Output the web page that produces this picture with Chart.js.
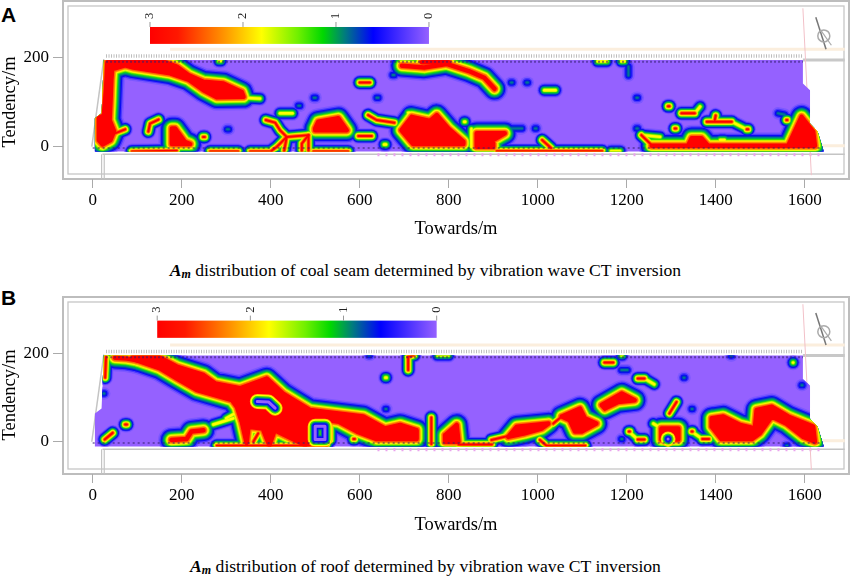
<!DOCTYPE html>
<html>
<head>
<meta charset="utf-8">
<script src="https://cdn.jsdelivr.net/npm/chart.js@4"></script>
<style>
  html, body { margin: 0; padding: 0; background: #fff; }
  body { width: 851px; height: 579px; position: relative; overflow: hidden; font-family: "Liberation Serif", serif; }
  canvas { position: absolute; left: 0; }
  .letter { position: absolute; left: 1px; font: bold 21px "Liberation Sans", sans-serif; color: #000; }
  .caption { position: absolute; left: 0; width: 851px; text-align: center; font-size: 17.6px; color: #000; white-space: nowrap; }
  .caption sub { font-size: 12px; vertical-align: -2px; line-height: 0; }
</style>
</head>
<body>
<div class="letter" style="top:3px">A</div>
<canvas id="coal" width="851" height="240" style="top:0"></canvas>
<div class="caption" style="top:260px"><b><i>A<sub>m</sub></i></b> distribution of coal seam determined by vibration wave CT inversion</div>
<div class="letter" style="top:286px">B</div>
<canvas id="roof" width="851" height="240" style="top:296px"></canvas>
<div class="caption" style="top:556px"><b><i>A<sub>m</sub></i></b> distribution of roof determined by vibration wave CT inversion</div>

<script>
const xTicks = [0, 200, 400, 600, 800, 1000, 1200, 1400, 1600];
const yTicks = [0, 200];
const barTicks = [3, 2, 1, 0];

// outline of the inverted area, metres
const workArea = [[5,-11],[5,64],[20,75],[25,195],[1596,195],[1596,142],[1612,127],[1612,52],[1629,34],[1643,-11]];

// coal seam: ridges and blobs of the Am field [x, y] in metres
const coalHot = [
  [[33,190],[45,190],[42,150],[40,100],[38,60],[48,35],[40,15],[22,5],[14,15],[14,65],[25,70],[30,130],[33,190]],
  [[46,191],[159,191],[189,180],[215,161],[249,146],[294,142],[335,123],[339,112],[279,111],[249,127],[215,151],[174,165],[91,178],[73,183],[50,176],[46,191]],
  [[178,41],[185,41],[207,11],[219,6],[178,6],[178,41]],
  [[500,41],[507,56],[552,64],[571,37],[500,37],[500,41]],
  [[694,37],[717,67],[758,58],[773,71],[799,41],[833,11],[833,6],[720,6],[694,37]],
  [[695,182],[745,178],[795,186],[845,170],[880,155],[903,130]],
  [[740,190],[800,190]],
  [[1256,2],[1338,2],[1346,19],[1368,19],[1383,2],[1563,2],[1593,67],[1619,34],[1623,2],[1256,2]],
  [[863,30],[926,30],[900,15],[900,0],[863,0],[863,30]]
];
const coalSpots = [
  [[50,30],[73,39]],
  [[125,34],[129,52],[148,61]],
  [[88,-11],[189,-9]],
  [[248,22],[252,22]],
  [[600,144],[623,144]],
  [[264,-11],[327,-11]],
  [[354,-11],[402,-11]],
  [[496,-11],[574,-11]],
  [[389,60],[410,54],[421,37],[436,22],[414,0],[402,-9]],
  [[436,22],[485,26]],
  [[485,26],[470,7],[470,-11]],
  [[436,22],[430,-11]],
  [[485,26],[485,-11]],
  [[597,24],[627,24]],
  [[619,71],[638,60],[678,54]],
  [[1293,91],[1296,91]],
  [[1323,75],[1353,75]],
  [[1308,41],[1311,41]],
  [[1380,56],[1436,56]],
  [[1398,60],[1400,70]],
  [[1470,39],[1473,39]],
  [[1559,60],[1561,60]],
  [[1233,26],[1256,4]],
  [[908,-10],[1145,-10]],
  [[1010,15],[1030,-3]]
];
const coalWarm = [
  [[339,110],[376,108]],
  [[284,193],[288,193]],
  [[655,5],[659,5]],
  [[421,75],[449,75]],
  [[530,66],[550,70]],
  [[709,76],[713,76]],
  [[1015,127],[1040,127]],
  [[1353,75],[1365,90]],
  [[1436,56],[1470,39]],
  [[1410,15],[1420,15]],
  [[835,56],[837,56]],
  [[851,0],[851,40]],
  [[1165,-10],[1185,-10]],
  [[1135,192],[1155,192]],
  [[1188,192],[1195,192]],
  [[1233,26],[1275,22]]
];
const coalLow = [
  [[302,39],[306,39]],
  [[462,92],[466,92]],
  [[497,110],[501,110]],
  [[638,110],[642,110]],
  [[674,161],[678,161]],
  [[940,144],[943,144]],
  [[975,144],[978,144]],
  [[1222,110],[1225,110]],
  [[1222,41],[1225,41]],
  [[1540,75],[1555,72]],
  [[940,41],[965,41]],
  [[994,41],[997,41]],
  [[1204,180],[1204,160]],
  [[54,90],[56,90]]
];
const coalHoles = [];

// roof
const roofHot = [
  [[50,190],[77,188],[99,184]],
  [[91,192],[147,192],[189,170],[249,151],[275,132],[331,121],[391,143],[428,109],[488,72],[608,57],[657,30],[691,38],[728,26],[728,6],[638,6],[594,23],[553,45],[490,54],[478,-8],[431,15],[409,26],[397,-8],[382,30],[350,34],[346,-3],[335,45],[324,79],[313,94],[234,117],[189,143],[151,166],[99,184],[91,192]],
  [[177,4],[211,6],[222,23],[249,26]],
  [[792,15],[818,38],[822,0],[792,0],[792,15]],
  [[934,11],[953,34],[1024,41],[1009,30],[971,19],[934,11]],
  [[1054,57],[1095,75],[1106,53],[1132,41],[1099,23],[1084,23],[1072,49],[1054,57]],
  [[1144,83],[1189,109],[1218,94],[1181,90],[1151,75],[1144,83]],
  [[1278,30],[1316,30],[1316,5],[1278,5],[1278,30]],
  [[1391,53],[1417,57],[1455,38],[1488,30],[1492,72],[1526,79],[1563,57],[1619,34],[1623,0],[1597,11],[1559,41],[1526,57],[1499,19],[1481,6],[1413,6],[1391,34],[1391,53]]
];
const roofSpots = [
  [[30,192],[28,145]],
  [[73,39],[77,39]],
  [[27,5],[45,20]],
  [[361,0],[372,19]],
  [[485,54],[485,-8]],
  [[534,53],[534,4]],
  [[279,-9],[526,-9]],
  [[586,6],[589,6]],
  [[709,162],[709,192]],
  [[709,192],[722,196]],
  [[761,55],[761,-5]],
  [[822,-6],[897,-6]],
  [[896,4],[941,15]],
  [[1005,4],[1020,-9],[1107,-9]],
  [[1035,41],[1054,57]],
  [[1150,179],[1170,179]],
  [[1225,143],[1240,143]],
  [[1312,90],[1296,64]],
  [[1205,23],[1207,23]],
  [[1225,5],[1240,5]],
  [[1346,23],[1348,23]],
  [[1370,6],[1385,6]]
];
const roofWarm = [
  [[658,145],[660,145]],
  [[271,39],[316,53]],
  [[300,53],[330,70]],
  [[775,196],[800,196]],
  [[1188,196],[1190,196]],
  [[1240,143],[1262,130]],
  [[1205,23],[1225,5]],
  [[1260,41],[1278,30]],
  [[1346,23],[1370,6]],
  [[1574,179],[1576,179]],
  [[1293,-11],[1295,-11]]
];
const roofLow = [
  [[24,109],[26,109]],
  [[658,74],[660,74]],
  [[620,196],[623,196]],
  [[1188,162],[1202,162]],
  [[1328,145],[1330,145]],
  [[1346,74],[1348,74]],
  [[1188,6],[1190,6]],
  [[1593,128],[1595,128]],
  [[1434,195],[1436,195]],
  [[1559,-9],[1561,-9]]
];
const roofHoles = [
  [[370,91],[395,90],[410,76]],
  [[500,35],[522,35],[522,5],[500,5],[500,35]],
  [[1293,6],[1295,6]]
];

// CAD drawing underneath the map
const topRoad = [[174,219],[1690,219]];
const topRows = [[30,204],[1596,204]];
const topMark = [[1596,195],[1690,195]];
const bottomRow = [[22,-17],[1690,-17]];
const bottomPink = [[640,-18],[1640,-18]];
const sideRoad = [[1240,2],[1690,2]];
const leftEdge = [[-2,0],[25,197]];
const leftRoad = [[20,-72],[20,-17]];
const leftRoad2 = [[26,-72],[26,-17]];
const faultLine = [[1596,311],[1615,-64]];
const northArrow = [[1625,291],[1648,219]];
const northArrow2 = [[1636,262],[1660,228]];
const upperDots = [[30,191],[1596,191]];
const lowerDots = [[0,-3],[1640,-3]];

const coalBarX = [128.8, 755.7];
const coalBarY = [231, 269];
const roofBarX = [145, 773];
const roofBarY = [235, 274];

const serif = '"Liberation Serif", serif';
const bands = [
  ['#7d58ff', 27], ['#4a38ff', 24], ['#0a0af5', 21.5], ['#0038c0', 19.5], ['#007a90', 17.5],
  ['#00b050', 15.5], ['#30e000', 13.5], ['#a8f000', 11.8], ['#ffff00', 10], ['#ffb400', 8.5],
  ['#ff6a00', 6.8], ['#ff0000', 4.5]
];
const holeBands = [['#ffb400', 15], ['#ffff00', 13.5], ['#40e000', 11], ['#007a90', 8.5], ['#0a0af5', 6], ['#9561ff', 3]];

const toXY = pts => pts.map(p => ({ x: p[0], y: p[1] }));

function line(pts, color, w, dash) {
  return { data: toXY(pts), borderColor: color, backgroundColor: color, borderWidth: w, borderDash: dash || [], pointRadius: 0, fill: false, tension: 0 };
}

function buildDatasets(hot, spots, warm, low, holes) {
  const ds = [];
  ds.push(line(topRoad, '#fbeedd', 3));
  ds.push(line(sideRoad, '#fbeedd', 3));
  ds.push(line(topRows, '#bdbdbd', 3.5, [1, 1.5]));
  ds.push(line(topMark, '#c8c8c8', 3));
  ds.push(line(bottomRow, '#c4c4c4', 1.5));
  ds.push(line(bottomPink, '#eaa4ee', 3, [2, 6]));
  ds.push(line(leftEdge, '#c4c4c4', 1.5));
  ds.push(line(leftRoad, '#c4c4c4', 1.2));
  ds.push(line(leftRoad2, '#c4c4c4', 1.2));
  ds.push(line(faultLine, '#f2c0c8', 1));
  ds.push(line(northArrow, '#777', 1.5));
  ds.push(line(northArrow2, '#aaa', 1.2));

  const base = line(workArea.concat([workArea[0]]), '#9561ff', 0);
  base.fill = 'shape';
  ds.push(base);

  // lowest band first over all blobs so that they merge like contours
  // each group: list, index of its peak band, width factor, width of the peak
  const groups = [[hot, 11, 1, 4.5], [spots, 11, 0.62, 2], [warm, 8, 0.75, 2.4], [low, 4, 1.1, 2]];
  bands.forEach((b, i) => {
    groups.forEach(g => {
      const peak = g[1];
      if (i > peak) return;
      const w = (b[1] - bands[peak][1]) * g[2] + g[3];
      g[0].forEach(pts => {
        const d = line(pts, b[0], w);
        d.field = true;
        d.borderCapStyle = 'round';
        d.borderJoinStyle = 'round';
        const closed = pts[0][0] === pts[pts.length - 1][0] && pts[0][1] === pts[pts.length - 1][1];
        if (closed && i === peak) d.fill = 'shape';
        ds.push(d);
      });
    });
  });
  holeBands.forEach(b => {
    holes.forEach(pts => {
      const d = line(pts, b[0], b[1]);
      d.field = true;
      d.borderCapStyle = 'round';
      d.borderJoinStyle = 'round';
      ds.push(d);
    });
  });
  ds.push(line(upperDots, 'rgba(50,30,110,.55)', 2, [2, 2]));
  ds.push(line(lowerDots, 'rgba(50,30,110,.5)', 2, [2, 3]));
  return ds.reverse(); // chart.js paints the last dataset first
}

const framePlugin = {
  id: 'frame',
  beforeDraw(chart) {
    const c = chart.ctx, a = chart.chartArea;
    c.save();
    c.strokeStyle = '#bdbdbd';
    c.lineWidth = 2;
    c.strokeRect(a.left, a.top, a.width, a.height);
    c.strokeStyle = '#c6c6c6';
    c.lineWidth = 1.3;
    c.strokeRect(a.left + 5, a.top + 5, a.width - 10, a.height - 10);
    c.restore();
  },
  beforeDatasetDraw(chart, args) {
    if (!chart.data.datasets[args.index].field) return;
    const c = chart.ctx, sx = chart.scales.x, sy = chart.scales.y;
    c.save();
    c.filter = 'blur(0.6px)';
    c.beginPath();
    workArea.forEach((p, i) => {
      const px = sx.getPixelForValue(p[0]), py = sy.getPixelForValue(p[1]);
      if (i) c.lineTo(px, py); else c.moveTo(px, py);
    });
    c.closePath();
    c.clip();
  },
  afterDatasetDraw(chart, args) {
    if (chart.data.datasets[args.index].field) chart.ctx.restore();
  },
  afterDraw(chart) {
    const c = chart.ctx, sx = chart.scales.x, sy = chart.scales.y;
    const o = chart.options.plugins.frame;
    // colour bar
    const x0 = sx.getPixelForValue(o.barX[0]), x1 = sx.getPixelForValue(o.barX[1]);
    const y0 = sy.getPixelForValue(o.barY[1]), y1 = sy.getPixelForValue(o.barY[0]);
    const g = c.createLinearGradient(x0, 0, x1, 0);
    [[0, '#ff0000'], [0.1, '#ff1800'], [0.26, '#ff9000'], [0.4, '#ffff00'], [0.53, '#70f000'], [0.62, '#00d800'],
     [0.7, '#007a80'], [0.8, '#0000ff'], [1, '#9561ff']].forEach(s => g.addColorStop(s[0], s[1]));
    c.save();
    c.fillStyle = g;
    c.fillRect(x0, y0, x1 - x0, y1 - y0);
    c.fillStyle = '#222';
    c.strokeStyle = '#999';
    c.font = '12.5px ' + serif;
    c.textAlign = 'center';
    c.textBaseline = 'middle';
    barTicks.forEach((v, i) => {
      const px = x0 + (x1 - x0) * i / (barTicks.length - 1);
      c.beginPath();
      c.moveTo(px, y0);
      c.lineTo(px, y0 - 5);
      c.stroke();
      c.save();
      c.translate(px, y0 - 11);
      c.rotate(-Math.PI / 2);
      c.fillText(String(v), 0, 0);
      c.restore();
    });
    // circle of the north arrow
    c.strokeStyle = '#aaa';
    c.lineWidth = 1.5;
    c.beginPath();
    c.arc(sx.getPixelForValue(1643), sy.getPixelForValue(249), 6, 0, Math.PI * 2);
    c.stroke();
    // y title sits a bit under the axis centre in the original
    c.fillStyle = '#000';
    c.font = '18.5px ' + serif;
    c.translate(10, o.titleY);
    c.rotate(-Math.PI / 2);
    c.fillText('Tendency/m', 0, 0);
    c.restore();
  }
};

function makeChart(id, datasets, xAxisH, ymin, ymax, barX, barY, titleY) {
  return new Chart(document.getElementById(id).getContext('2d'), {
    type: 'line',
    data: { datasets: datasets },
    options: {
      responsive: false,
      animation: false,
      events: [],
      layout: { padding: { top: 1, right: 2, left: 0, bottom: 0 } },
      plugins: { legend: { display: false }, tooltip: { enabled: false }, frame: { barX: barX, barY: barY, titleY: titleY } },
      scales: {
        x: {
          type: 'linear', min: -66.7, max: 1699.6,
          afterBuildTicks: s => { s.ticks = xTicks.map(v => ({ value: v })); },
          afterFit: s => { s.height = xAxisH; s.paddingLeft = 0; s.paddingRight = 0; },
          grid: { drawOnChartArea: false, tickLength: 9, color: '#aaa' },
          border: { display: false },
          ticks: { color: '#000', font: { family: serif, size: 17 }, padding: 2, maxRotation: 0, autoSkip: false, callback: v => String(v) },
          title: { display: true, text: 'Towards/m', color: '#000', font: { family: serif, size: 18.5 }, padding: { top: 1, bottom: 0 } }
        },
        y: {
          type: 'linear', min: ymin, max: ymax,
          afterBuildTicks: s => { s.ticks = yTicks.map(v => ({ value: v })); },
          afterFit: s => { s.width = 63; s.paddingTop = 0; s.paddingBottom = 0; },
          grid: { drawOnChartArea: false, tickLength: 10, color: '#aaa' },
          border: { display: false },
          ticks: { color: '#000', font: { family: serif, size: 17 }, padding: 4, callback: v => String(v) }
        }
      }
    },
    plugins: [framePlugin]
  });
}

makeChart('coal', buildDatasets(coalHot, coalSpots, coalWarm, coalLow, coalHoles), 61, -72.6, 327.4, coalBarX, coalBarY, 102);
makeChart('roof', buildDatasets(roofHot, roofSpots, roofWarm, roofLow, roofHoles), 62, -73, 327.4, roofBarX, roofBarY, 99);
</script>
</body>
</html>
